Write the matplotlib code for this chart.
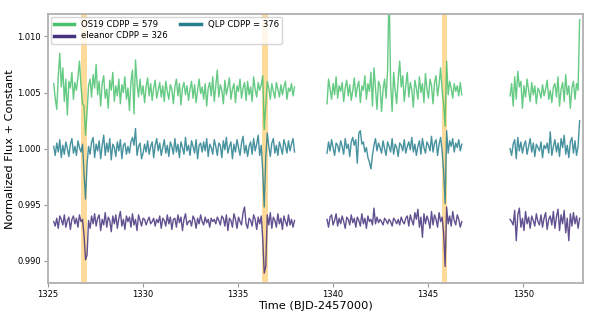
import numpy as np
import matplotlib
matplotlib.use("Agg")
import matplotlib.pyplot as plt

# relative flux in units of 1e-4, one list per light-curve segment
seg_start = [1325.30, 1339.68, 1349.31]
seg_end = [1337.97, 1346.77, 1352.97]

os19_s1 = [8, -5, -15, 14, 35, 5, 22, -8, 12, -20,
           10, 4, 18, -6, 9, 2, 14, 28, 6, -10,
           -12, -38, -18, 6, 12, -4, 16, 4, 25, -2,
           10, -12, 8, 15, -5, 3, -14, 11, 2, 18,
           -8, 6, -3, 12, -10, 7, 0, 14, -6, 4,
           -16, 10, 20, -19, 29, 8, -4, 12, -2, 6,
           -9, 5, 13, -3, 8, -7, 4, 11, -5, 2,
           9, -4, 6, -8, 10, 1, -6, 7, 3, -10,
           5, 12, -3, 8, -11, 4, 9, -2, 6, -7,
           3, 10, -5, 7, -9, 2, 12, -1, 5, -6,
           8, -12, 4, 9, -3, 14, -8, 6, 20, -4,
           7, 2, -10, 11, -2, 5, 13, -6, 3, 8,
           -9, 6, 1, 12, -5, 4, 9, -7, 10, -2,
           5, -8, 14, 3, -4, 9, 2, 7, 15, -33,
           -12, 10, 4, -6, 8, 1, -5, 9, 3, -4,
           7, -2, 5, 10, -6, 4, 1, 8, -3, 5]
os19_s2 = [-10, 12, 3, -6, 8, -2, 14, -5, 6, 1,
           9, -8, 4, 11, -3, 7, -7, 2, 13, -4,
           5, 10, -9, 6, 2, 15, -6, 8, 1, 18,
           -12, 22, 4, -15, 10, 6, -17, 3, 12, -5,
           20, 95, 8, -17, 18, 2, -10, 12, 28, 5,
           15, -8, 6, 18, -4, 9, 2, -13, 11, 4,
           -6, 14, 0, 8, -9, 17, 3, -5, 12, 6,
           -10, 9, 15, -3, 7, 22, 2, -10, -30, 28,
           -2, 10, 4, -5, 8, 1, 6, -3, 9, -2]
os19_s3 = [-3, 8, -12, 14, -6, 19, 5, 10, -14, 6,
           -4, 12, 2, -8, 9, -2, 6, -10, 4, 1,
           -5, 7, -3, 3, 11, -6, 2, -9, 5, 8,
           -4, 14, -12, 3, 9, -8, 16, -2, 6, -14,
           4, 10, -6, 8, 2, 65]

qlp_s1 = [2, -6, 5, -3, 8, -8, 3, -5, 6, 0,
          -7, 4, 9, -4, 2, -6, 7, 1, -3, 4,
          -22, -45, -14, 2, -5, 6, 10, -8, 4, -2,
          7, -9, 3, 12, -6, 5, -3, 9, -10, 4,
          1, -7, 6, -2, 8, -9, 3, 5, -5, 2,
          -4, 6, 10, 3, 18, -6, 2, 5, -9, -4,
          4, -3, 7, -5, 2, 6, -8, 3, 9, -2,
          5, -6, 1, 8, -4, 3, -7, 6, 2, -5,
          9, -3, 4, -8, 6, 1, -5, 10, -2, 3,
          -6, 7, 2, -4, 8, -9, 3, 5, -3, 6,
          -2, 9, -7, 4, 1, -5, 8, 2, -6, 5,
          3, -8, 7, -1, 10, -4, 2, 6, -9, 4,
          -3, 8, 1, -6, 5, 11, -4, 3, -7, 2,
          6, -5, 9, -2, 4, 12, -6, 3, -20, -52,
          -8, 14, 2, -7, 5, 9, -4, 3, -6, 6,
          1, -5, 8, 3, -4, 7, -2, 4, 9, -3]
qlp_s2 = [-4, 6, -2, 8, 1, -6, 5, 3, -3, 7,
          2, -5, 9, 0, 4, -7, 6, 10, 3, 8,
          -13, 14, 16, 4, 6, -3, 1, -8, -12, -18,
          -6, 3, 9, -2, 5, 1, -4, 7, 0, -6,
          6, 2, -3, 9, -5, 4, 1, -7, 5, 3,
          -2, 8, -4, 2, 6, -1, 10, -3, 4, -6,
          2, 7, -5, 9, 1, -4, 6, 3, -2, 11,
          -3, 5, 8, -6, 4, 10, -2, -20, -49, 16,
          -4, 7, 2, 9, -3, 5, 1, 8, -2, 4]
qlp_s3 = [0, -6, 4, 8, -9, 10, -2, 6, -4, 3,
          7, -5, 2, 9, -3, 5, -7, 4, 1, -2,
          6, -8, 3, 0, 5, -4, 15, -6, 2, 8,
          -3, 5, -7, 9, 1, 12, -5, 3, -8, 6,
          10, -4, 7, -6, 2, 25]

eleanor_s1 = [0, -4, 3, -6, 5, 2, -3, 6, -5, 1,
              4, -7, 2, 5, -2, 3, -5, 6, 0, 2,
              -12, -34, -30, 1, -6, 5, -2, 7, -4, 3,
              6, -8, 2, -3, 8, -5, 4, 1, -9, 5,
              -2, 6, -6, 3, 9, -4, 2, -7, 5, 0,
              4, -5, 7, -3, 2, -8, 6, 1, -4, 3,
              2, -3, 1, 4, -2, 0, 3, -4, 2, -1,
              5, -6, 3, 1, -4, 6, -2, 4, -7, 2,
              3, -5, 6, -1, 4, -8, 2, 7, -3, 0,
              1, -4, 5, 2, -6, 3, -2, 6, 0, -3,
              4, -1, 2, -5, 3, 0, 2, -2, 4, 1,
              -3, 5, 3, -4, 6, -8, 3, 1, -5, 7,
              2, -6, 4, 0, -3, 8, 13, -2, -6, 3,
              1, -4, 6, 2, -7, 4, -2, 5, -15, -46,
              -40, 6, -3, 8, -6, 4, 1, -5, 7, -2,
              3, -7, 5, 0, -4, 6, -3, 2, -5, 1]
eleanor_s2 = [2, -5, 4, 6, -3, 1, 7, -4, 3, -2,
              5, 0, -6, 4, 2, -3, 6, -1, 3, -5,
              4, 1, -4, 7, -2, 3, -6, 5, 0, 2,
              -3, 12, -2, 4, -1, 2, 0, -3, 3, 1,
              -2, 2, 0, -4, 3, 1, -2, 2, -3, 4,
              0, -2, 3, 5, -4, 6, 1, -3, 8, 2,
              11, -5, 4, -14, 7, -2, 5, 1, -6, 9,
              -3, 6, 2, -5, 8, 0, 4, -10, -40, 13,
              -2, 5, -4, 9, 1, -3, 6, 2, -5, 0]
eleanor_s3 = [2, 0, -3, 10, -17, 6, 12, -5, 3, -8,
              9, -2, 4, -6, 5, 1, -4, 7, 0, -3,
              6, -5, 3, 8, -7, 2, 5, -3, 9, -6,
              4, 11, -8, 6, -2, 10, -10, 3, -17, 7,
              -4, 8, -2, 5, -6, 3]

labels = ['OS19 CDPP = 579', 'QLP CDPP = 376', 'eleanor CDPP = 326']
offsets = [0.005, 0.0, -0.0065]
transit_mid = [1326.90, 1336.40, 1345.86]
transit_halfwidth = 0.15

colors = ['#4ac16d', '#277f8e', '#45337d']
series = [[os19_s1, os19_s2, os19_s3],
          [qlp_s1, qlp_s2, qlp_s3],
          [eleanor_s1, eleanor_s2, eleanor_s3]]

fig = plt.figure(figsize=(5.98, 3.21), dpi=100)
ax = fig.add_axes([0.0803, 0.1174, 0.8947, 0.839])

for mid in transit_mid:
    ax.axvspan(mid - transit_halfwidth, mid + transit_halfwidth, color='orange', alpha=0.4, lw=0, zorder=0)

handles = []
for segs, off, col, lab in zip(series, offsets, colors, labels):
    for k, vals in enumerate(segs):
        t = np.linspace(seg_start[k], seg_end[k], len(vals))
        flux = 1.0 + np.array(vals) * 1e-4 + off
        ln, = ax.plot(t, flux, color=col, lw=1.0, alpha=0.85)
        if k == 0:
            handles.append(ln)

ax.set_xlim(1325, 1353.15)
ax.set_ylim(0.988, 1.012)
ax.set_xticks([1325, 1330, 1335, 1340, 1345, 1350])
ax.set_yticks([0.990, 0.995, 1.000, 1.005, 1.010])
ax.yaxis.set_major_formatter(matplotlib.ticker.FormatStrFormatter('%.3f'))
ax.tick_params(labelsize=6, length=3, width=0.8, color='#999999', pad=2)
for sp in ax.spines.values():
    sp.set_color('#b0b0b0')
    sp.set_linewidth(1.3)

ax.set_xlabel('Time (BJD-2457000)', fontsize=8.2, labelpad=1)
ax.set_ylabel('Normalized Flux + Constant', fontsize=8.2, labelpad=2)

# two columns, filled column-wise: OS19 / eleanor, then QLP
order = [0, 2, 1]
leg = ax.legend([handles[i] for i in order], [labels[i] for i in order],
                loc='upper left', ncol=2, fontsize=6.1, borderaxespad=0.3,
                labelspacing=0.3, handlelength=2.4, columnspacing=1.5)
for line in leg.get_lines():
    line.set_linewidth(2.5)
    line.set_alpha(1)

fig.savefig('out.png', dpi=100)
